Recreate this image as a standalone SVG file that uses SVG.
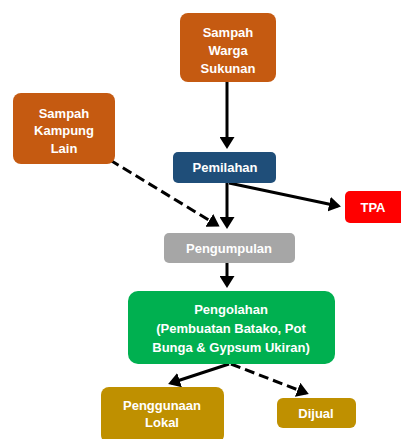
<svg xmlns="http://www.w3.org/2000/svg" width="401" height="439" viewBox="0 0 401 439">
<style>
.t{font-family:"Liberation Sans",Arial,sans-serif;font-weight:bold;font-size:13px;fill:#fff;text-anchor:middle}
.c{stroke:#000;stroke-width:3;fill:none}
.d{stroke-dasharray:10,5}
</style>
<defs>
<marker id="ah" markerWidth="4" markerHeight="5" refX="3" refY="2.5" orient="auto" markerUnits="strokeWidth">
<path d="M0,0 L4,2.5 L0,5 Z" fill="#000"/>
</marker>
</defs>
<rect width="401" height="439" fill="#fff"/>
<g id="connectors">
<line class="c" x1="227" y1="82" x2="227" y2="146" marker-end="url(#ah)"/>
<line class="c" x1="227" y1="183" x2="227" y2="226" marker-end="url(#ah)"/>
<line class="c" x1="229" y1="183" x2="338" y2="206" marker-end="url(#ah)"/>
<line class="c d" x1="110" y1="160" x2="217" y2="225" marker-end="url(#ah)"/>
<line class="c" x1="227" y1="263" x2="227" y2="285" marker-end="url(#ah)"/>
<line class="c" x1="229" y1="364" x2="171" y2="383" marker-end="url(#ah)"/>
<line class="c d" x1="231" y1="364" x2="306" y2="393" marker-end="url(#ah)"/>
</g>
<g id="warga">
<rect x="180" y="13" width="96" height="69" rx="8" fill="#C55A11"/>
<text class="t" x="228" y="37">Sampah</text>
<text class="t" x="228" y="55">Warga</text>
<text class="t" x="228" y="73">Sukunan</text>
</g>
<g id="kampung">
<rect x="13" y="93" width="102" height="71" rx="8" fill="#C55A11"/>
<text class="t" x="64" y="118">Sampah</text>
<text class="t" x="64" y="135">Kampung</text>
<text class="t" x="64" y="153">Lain</text>
</g>
<g id="pemilahan">
<rect x="173" y="152" width="103" height="31" rx="5" fill="#1F4E79"/>
<text class="t" x="225" y="172">Pemilahan</text>
</g>
<g id="tpa">
<rect x="345" y="191" width="62" height="32" rx="5" fill="#FF0000"/>
<text class="t" x="373" y="212">TPA</text>
</g>
<g id="pengumpulan">
<rect x="164" y="233" width="131" height="30" rx="5" fill="#A6A6A6"/>
<text class="t" x="229" y="253">Pengumpulan</text>
</g>
<g id="pengolahan">
<rect x="128" y="291" width="207" height="73" rx="10" fill="#00B050"/>
<text class="t" x="231" y="314">Pengolahan</text>
<text class="t" x="231" y="333">(Pembuatan Batako, Pot</text>
<text class="t" x="231" y="352">Bunga &amp; Gypsum Ukiran)</text>
</g>
<g id="lokal">
<rect x="101" y="387" width="123" height="56" rx="8" fill="#BF9000"/>
<text class="t" x="162" y="410">Penggunaan</text>
<text class="t" x="162" y="427">Lokal</text>
</g>
<g id="dijual">
<rect x="277" y="398" width="79" height="30" rx="6" fill="#BF9000"/>
<text class="t" x="316" y="418">Dijual</text>
</g>
</svg>
